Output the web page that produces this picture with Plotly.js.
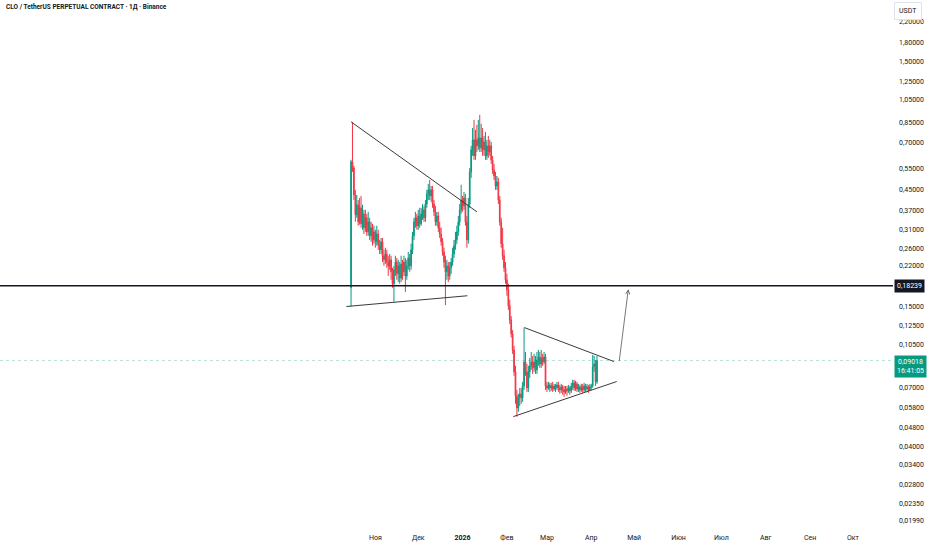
<!DOCTYPE html>
<html><head><meta charset="utf-8">
<script src="https://cdn.plot.ly/plotly-3.0.1.min.js"></script>
<style>html,body{margin:0;padding:0;background:#fff}#chart{width:932px;height:550px}</style>
</head><body><div id="chart"></div>
<script>
const dates = [
'2025-10-15','2025-10-16','2025-10-17','2025-10-18','2025-10-19','2025-10-20','2025-10-21','2025-10-22','2025-10-23','2025-10-24','2025-10-25','2025-10-26','2025-10-27','2025-10-28','2025-10-29','2025-10-30','2025-10-31',
'2025-11-01','2025-11-02','2025-11-03','2025-11-04','2025-11-05','2025-11-06','2025-11-07','2025-11-08','2025-11-09','2025-11-10','2025-11-11','2025-11-12','2025-11-13','2025-11-14','2025-11-15','2025-11-16','2025-11-17','2025-11-18','2025-11-19','2025-11-20','2025-11-21','2025-11-22','2025-11-23','2025-11-24','2025-11-25','2025-11-26','2025-11-27','2025-11-28','2025-11-29','2025-11-30',
'2025-12-01','2025-12-02','2025-12-03','2025-12-04','2025-12-05','2025-12-06','2025-12-07','2025-12-08','2025-12-09','2025-12-10','2025-12-11','2025-12-12','2025-12-13','2025-12-14','2025-12-15','2025-12-16','2025-12-17','2025-12-18','2025-12-19','2025-12-20','2025-12-21','2025-12-22','2025-12-23','2025-12-24','2025-12-25','2025-12-26','2025-12-27','2025-12-28','2025-12-29','2025-12-30','2025-12-31',
'2026-01-01','2026-01-02','2026-01-03','2026-01-04','2026-01-05','2026-01-06','2026-01-07','2026-01-08','2026-01-09','2026-01-10','2026-01-11','2026-01-12','2026-01-13','2026-01-14','2026-01-15','2026-01-16','2026-01-17','2026-01-18','2026-01-19','2026-01-20','2026-01-21','2026-01-22','2026-01-23','2026-01-24','2026-01-25','2026-01-26','2026-01-27','2026-01-28','2026-01-29','2026-01-30','2026-01-31',
'2026-02-01','2026-02-02','2026-02-03','2026-02-04','2026-02-05','2026-02-06','2026-02-07','2026-02-08','2026-02-09','2026-02-10','2026-02-11','2026-02-12','2026-02-13','2026-02-14','2026-02-15','2026-02-16','2026-02-17','2026-02-18','2026-02-19','2026-02-20','2026-02-21','2026-02-22','2026-02-23','2026-02-24','2026-02-25','2026-02-26','2026-02-27','2026-02-28',
'2026-03-01','2026-03-02','2026-03-03','2026-03-04','2026-03-05','2026-03-06','2026-03-07','2026-03-08','2026-03-09','2026-03-10','2026-03-11','2026-03-12','2026-03-13','2026-03-14','2026-03-15','2026-03-16','2026-03-17','2026-03-18','2026-03-19','2026-03-20','2026-03-21','2026-03-22','2026-03-23','2026-03-24','2026-03-25','2026-03-26','2026-03-27','2026-03-28','2026-03-29','2026-03-30','2026-03-31',
'2026-04-01','2026-04-02','2026-04-03','2026-04-04','2026-04-05'];

const openP = [
0.179,0.586,0.553,0.429,0.356,0.391,0.333,0.380,0.327,0.359,
0.315,0.346,0.303,0.333,0.292,0.315,0.281,0.303,0.276,0.297,
0.268,0.256,0.276,0.242,0.233,0.246,0.228,0.220,0.233,0.208,
0.186,0.212,0.228,0.204,0.220,0.196,0.224,0.208,0.228,0.200,
0.220,0.237,0.220,0.256,0.292,0.333,0.346,0.321,0.352,0.327,
0.359,0.373,0.346,0.394,0.433,0.450,0.425,0.450,0.394,0.366,
0.333,0.352,0.315,0.297,0.276,0.251,0.228,0.208,0.220,0.200,
0.216,0.228,0.246,0.266,0.281,0.303,0.333,0.373,0.409,0.387,
0.417,0.333,0.281,0.394,0.533,0.656,0.721,0.620,0.721,0.681,
0.734,0.668,0.734,0.656,0.707,0.620,0.681,0.643,0.681,0.597,
0.543,0.513,0.467,0.485,0.409,0.333,0.271,0.242,0.216,0.193,
0.1755,0.151,0.1322,0.116,0.0997,0.0811,0.0647,0.0577,0.0635,0.0659,
0.0635,0.0710,0.0890,0.0811,0.0697,0.0811,0.0858,0.0890,0.0842,0.0890,
0.0826,0.0907,0.0933,0.0873,0.0924,0.0890,0.0933,0.0710,0.0697,0.0717,
0.0697,0.0710,0.0690,0.0710,0.0697,0.0717,0.0697,0.0684,0.0704,0.0684,
0.0671,0.0690,0.0678,0.0697,0.0678,0.0710,0.0731,0.0697,0.0724,0.0690,
0.0704,0.0684,0.0704,0.0684,0.0710,0.0690,0.0704,0.0684,0.0704,0.0710,
0.0850,0.0873,0.0738];

const highP = [
0.597,0.853,0.564,0.450,0.429,0.409,0.417,0.425,0.391,0.373,
0.373,0.359,0.366,0.346,0.333,0.327,0.321,0.309,0.321,0.309,
0.281,0.286,0.286,0.256,0.261,0.256,0.242,0.246,0.242,0.216,
0.220,0.242,0.237,0.233,0.228,0.242,0.233,0.242,0.237,0.233,
0.251,0.246,0.271,0.303,0.346,0.366,0.359,0.373,0.380,0.380,
0.394,0.387,0.409,0.450,0.476,0.494,0.467,0.467,0.409,0.387,
0.366,0.366,0.333,0.315,0.286,0.261,0.242,0.233,0.228,0.228,
0.237,0.261,0.281,0.303,0.321,0.352,0.394,0.472,0.425,0.441,
0.433,0.352,0.417,0.553,0.681,0.806,0.870,0.792,0.830,0.870,
0.912,0.838,0.806,0.748,0.777,0.721,0.748,0.721,0.707,0.620,
0.575,0.533,0.513,0.504,0.425,0.346,0.315,0.256,0.228,0.204,
0.186,0.160,0.137,0.1203,0.1035,0.0858,0.0684,0.0659,0.0697,0.0697,
0.0738,0.123,0.0978,0.0873,0.0858,0.0924,0.0978,0.0942,0.0960,0.0942,
0.0978,0.0997,0.0978,0.0997,0.0960,0.0978,0.0960,0.0738,0.0738,0.0731,
0.0731,0.0738,0.0724,0.0724,0.0738,0.0738,0.0717,0.0724,0.0717,0.0710,
0.0710,0.0710,0.0717,0.0710,0.0731,0.0752,0.0752,0.0745,0.0738,0.0724,
0.0717,0.0724,0.0724,0.0731,0.0724,0.0724,0.0717,0.0724,0.0724,0.0951,
0.0942,0.0907,0.0942];

const lowP = [
0.150,0.533,0.409,0.333,0.346,0.321,0.324,0.315,0.309,0.297,
0.303,0.292,0.292,0.281,0.276,0.266,0.271,0.261,0.266,0.256,
0.246,0.246,0.228,0.220,0.224,0.216,0.200,0.212,0.193,0.179,
0.157,0.200,0.193,0.189,0.186,0.189,0.193,0.200,0.172,0.193,
0.212,0.208,0.212,0.246,0.281,0.315,0.309,0.309,0.315,0.321,
0.339,0.333,0.333,0.380,0.409,0.409,0.402,0.380,0.352,0.321,
0.321,0.303,0.286,0.266,0.242,0.216,0.152,0.193,0.189,0.193,
0.204,0.220,0.237,0.256,0.271,0.292,0.321,0.359,0.366,0.373,
0.321,0.261,0.271,0.380,0.504,0.620,0.597,0.597,0.643,0.656,
0.643,0.643,0.620,0.620,0.597,0.597,0.608,0.620,0.575,0.523,
0.494,0.450,0.450,0.394,0.321,0.261,0.233,0.208,0.186,0.166,
0.1453,0.127,0.112,0.0960,0.0781,0.0600,0.0531,0.0556,0.0588,0.0600,
0.0611,0.0684,0.0781,0.0671,0.0671,0.0766,0.0826,0.0795,0.0811,0.0795,
0.0795,0.0858,0.0842,0.0842,0.0858,0.0873,0.0684,0.0671,0.0684,0.0671,
0.0678,0.0671,0.0678,0.0671,0.0684,0.0671,0.0659,0.0665,0.0653,0.0641,
0.0659,0.0647,0.0665,0.0653,0.0665,0.0684,0.0678,0.0678,0.0671,0.0671,
0.0665,0.0671,0.0665,0.0671,0.0671,0.0678,0.0665,0.0678,0.0684,0.0697,
0.0811,0.0710,0.0724];

const closeP = [
0.586,0.553,0.429,0.356,0.391,0.333,0.380,0.327,0.359,0.315,
0.346,0.303,0.333,0.292,0.315,0.281,0.303,0.276,0.297,0.268,
0.256,0.276,0.242,0.233,0.246,0.228,0.220,0.233,0.208,0.186,
0.212,0.228,0.204,0.220,0.196,0.224,0.208,0.228,0.200,0.220,
0.237,0.220,0.256,0.292,0.333,0.346,0.321,0.352,0.327,0.359,
0.373,0.346,0.394,0.433,0.450,0.425,0.450,0.394,0.366,0.333,
0.352,0.315,0.297,0.276,0.251,0.228,0.208,0.220,0.200,0.216,
0.228,0.246,0.266,0.281,0.303,0.333,0.373,0.409,0.387,0.417,
0.333,0.281,0.394,0.533,0.656,0.721,0.620,0.721,0.681,0.734,
0.668,0.734,0.656,0.707,0.620,0.681,0.643,0.681,0.597,0.543,
0.513,0.467,0.485,0.409,0.333,0.271,0.242,0.216,0.193,0.1755,
0.151,0.1322,0.116,0.0997,0.0811,0.0647,0.0577,0.0635,0.0659,0.0635,
0.0710,0.0890,0.0811,0.0697,0.0811,0.0858,0.0890,0.0842,0.0890,0.0826,
0.0907,0.0933,0.0873,0.0924,0.0890,0.0933,0.0710,0.0697,0.0717,0.0697,
0.0710,0.0690,0.0710,0.0697,0.0717,0.0697,0.0684,0.0704,0.0684,0.0671,
0.0690,0.0678,0.0697,0.0678,0.0710,0.0731,0.0697,0.0724,0.0690,0.0704,
0.0684,0.0704,0.0684,0.0710,0.0690,0.0704,0.0684,0.0704,0.0710,0.0850,
0.0873,0.0738,0.09018];

// drawn trend lines (date, price)
const downLineX = ['2025-10-15', '2026-01-11'];
const downLineY = [0.854, 0.366];
const supportLineX = ['2025-10-11 18:00', '2026-01-04 08:00'];
const supportLineY = [0.150, 0.166];
const triTopX = ['2026-02-13 05:00', '2026-04-16 22:00'];
const triTopY = [0.123, 0.0893];
const triBottomX = ['2026-02-05 12:00', '2026-04-18 19:00'];
const triBottomY = [0.0532, 0.0740];
const arrowTail = ['2026-04-20 10:00', 0.0885];
const arrowHead = ['2026-04-26 22:00', 0.1766];
const levelPrice = 0.18239;
const lastPrice = 0.09018;
const lastTimeLabel = '16:41:05';

const xRange = ['2025-02-11 12:00', '2026-10-29'];
const yRange = [0.01794, 2.69];

const yTickVals = [2.2,1.8,1.5,1.25,1.05,0.85,0.70,0.55,0.45,0.37,0.31,0.26,0.22,0.15,0.125,0.105,0.07,0.058,0.048,0.04,0.034,0.028,0.0235,0.0199];
const yTickText = ['2,20000','1,80000','1,50000','1,25000','1,05000','0,85000','0,70000','0,55000','0,45000','0,37000','0,31000','0,26000','0,22000','0,15000','0,12500','0,10500','0,07000','0,05800','0,04800','0,04000','0,03400','0,02800','0,02350','0,01990'];
const xTickVals = ['2025-11-01','2025-12-01','2026-01-01','2026-02-01','2026-03-01','2026-04-01','2026-05-01','2026-06-01','2026-07-01','2026-08-01','2026-09-01','2026-10-01'];
const xTickText = ['Ноя','Дек','<b>2026</b>','Фев','Мар','Апр','Май','Июн','Июл','Авг','Сен','Окт'];

const GREEN = '#089981', RED = '#F23645', LINE = '#3a3a3a';
const fmt = v => v.toFixed(5).replace('.', ',');

const traces = [
  {type:'scatter', mode:'lines', x:xRange, y:[lastPrice,lastPrice], line:{color:'rgba(8,153,129,0.28)', width:1, dash:'dot'}, hoverinfo:'skip'},
  {type:'candlestick', x:dates, open:openP, high:highP, low:lowP, close:closeP,
   increasing:{line:{color:GREEN, width:1}, fillcolor:GREEN},
   decreasing:{line:{color:RED, width:1}, fillcolor:RED},
   whiskerwidth:0, hoverinfo:'skip'},
  {type:'scatter', mode:'lines', x:xRange, y:[levelPrice,levelPrice], line:{color:'#131722', width:1.5}, hoverinfo:'skip'},
  {type:'scatter', mode:'lines', x:downLineX, y:downLineY, line:{color:LINE, width:1}, hoverinfo:'skip'},
  {type:'scatter', mode:'lines', x:supportLineX, y:supportLineY, line:{color:LINE, width:1}, hoverinfo:'skip'},
  {type:'scatter', mode:'lines', x:triTopX, y:triTopY, line:{color:LINE, width:1}, hoverinfo:'skip'},
  {type:'scatter', mode:'lines', x:triBottomX, y:triBottomY, line:{color:LINE, width:1}, hoverinfo:'skip'}
];

const layout = {
  width:932, height:550,
  margin:{l:0, r:39, t:0, b:18},
  paper_bgcolor:'#fff', plot_bgcolor:'#fff',
  showlegend:false,
  font:{family:'Roboto, "Liberation Sans", sans-serif', size:7, color:'#131722'},
  xaxis:{type:'date', range:xRange, rangeslider:{visible:false}, showgrid:false, zeroline:false, showline:false,
         ticks:'', tickmode:'array', tickvals:xTickVals, ticktext:xTickText, tickfont:{size:7, color:'#131722'}, fixedrange:true},
  yaxis:{type:'log', side:'right', range:[Math.log10(yRange[0]), Math.log10(yRange[1])], showgrid:false, zeroline:false, showline:false,
         ticks:'', tickmode:'array', tickvals:yTickVals, ticktext:yTickText, tickfont:{size:7, color:'#131722'}, ticklabelstandoff:5, fixedrange:true},
  annotations:[
    {xref:'paper', yref:'paper', x:0.004, y:0.998, xanchor:'left', yanchor:'top', showarrow:false,
     text:'<b>CLO / TetherUS PERPETUAL CONTRACT · 1Д · Binance</b>', font:{size:6.5, color:'#131722'}},
    {x:arrowHead[0], y:Math.log10(arrowHead[1]), ax:arrowTail[0], ay:Math.log10(arrowTail[1]), axref:'x', ayref:'y',
     xref:'x', yref:'y', showarrow:true, text:'', arrowhead:5, arrowsize:1, arrowwidth:0.8, arrowcolor:'#555'},
    {xref:'paper', yref:'y', x:1, y:Math.log10(levelPrice), xanchor:'left', yanchor:'middle', showarrow:false,
     text:fmt(levelPrice), bgcolor:'#131722', font:{size:7, color:'#fff'}, borderpad:2, xshift:1},
    {xref:'paper', yref:'y', x:1, y:Math.log10(lastPrice), xanchor:'left', yanchor:'top', showarrow:false, yshift:6,
     text:fmt(lastPrice)+'<br>'+lastTimeLabel, bgcolor:GREEN, font:{size:7, color:'#fff'}, borderpad:2, xshift:1},
    {xref:'paper', yref:'paper', x:1, y:0.997, xanchor:'left', yanchor:'top', showarrow:false, xshift:1,
     text:'USDT', bgcolor:'#fff', bordercolor:'#e0e3eb', borderwidth:1, borderpad:4, font:{size:7, color:'#131722'}}
  ]
};

Plotly.newPlot('chart', traces, layout, {displayModeBar:false, staticPlot:true});
</script></body></html>
